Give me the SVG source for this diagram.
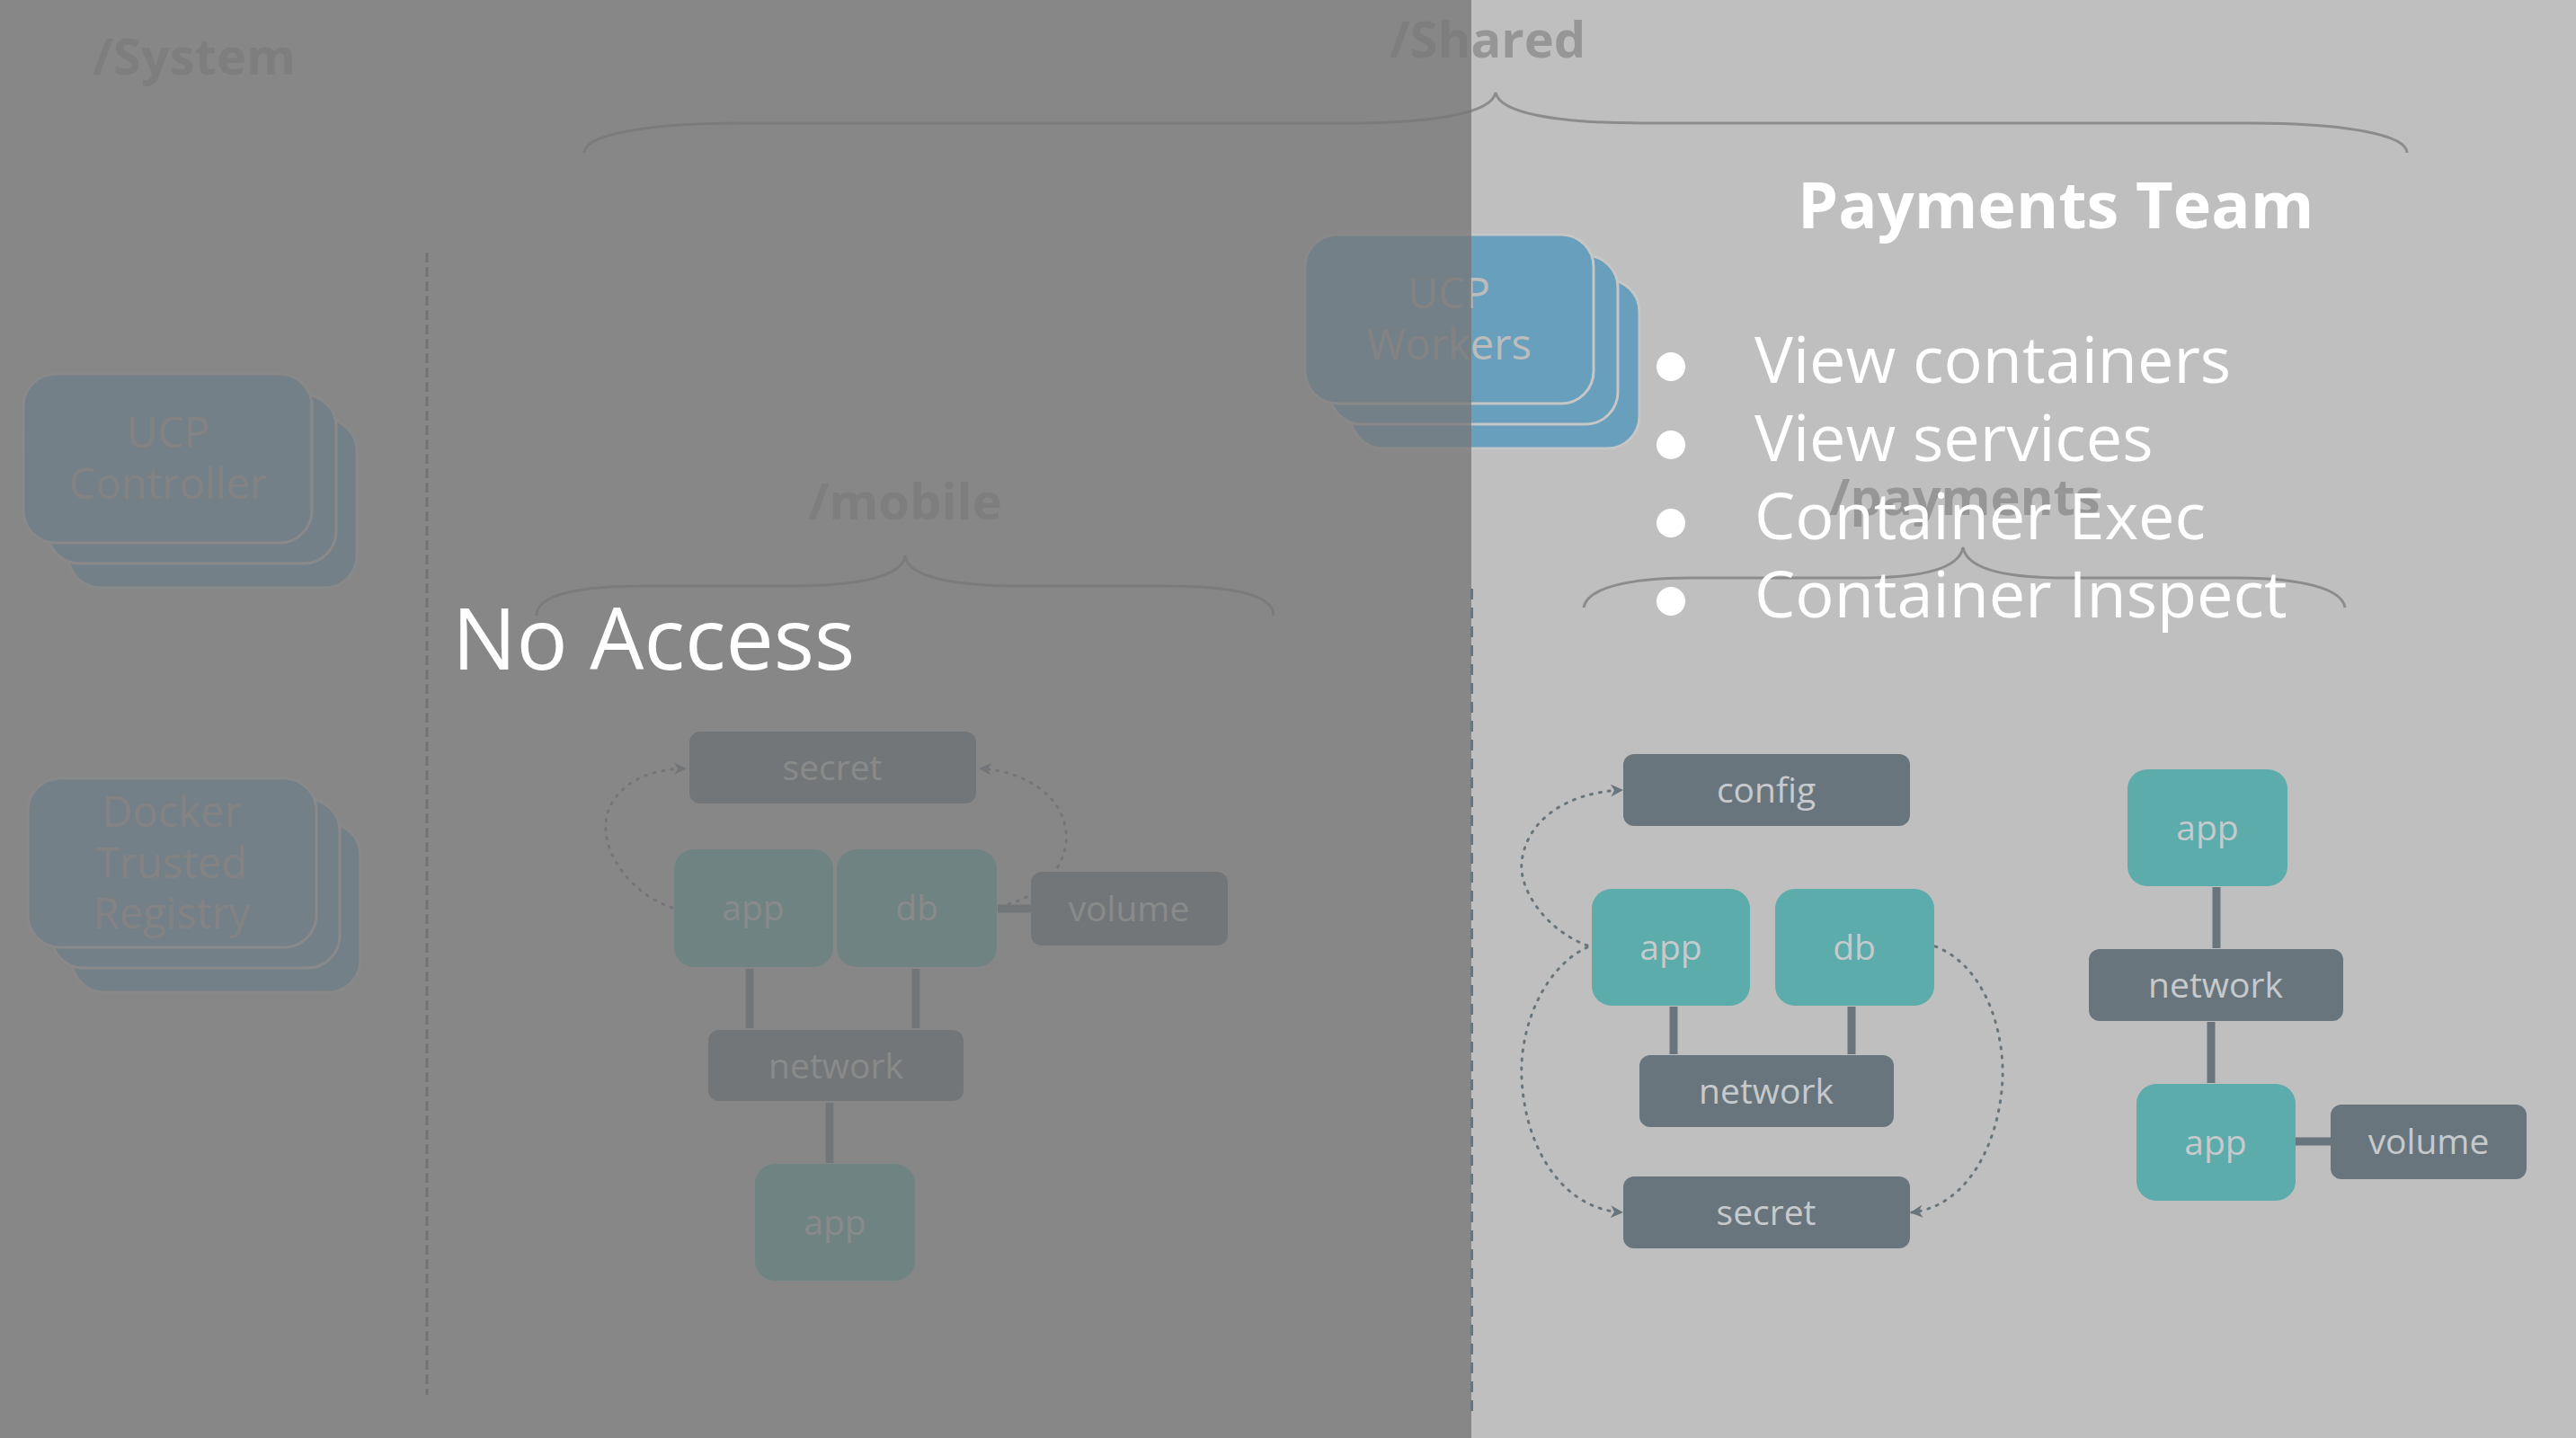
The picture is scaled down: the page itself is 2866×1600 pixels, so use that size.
<svg xmlns="http://www.w3.org/2000/svg" width="2866" height="1600" viewBox="0 0 2866 1600">
<defs>
<style>
text{font-family:"Open Sans","Liberation Sans",sans-serif;}
.lbl{font-weight:bold;font-size:56px;fill:#969696;text-anchor:middle;}
.brace{fill:none;stroke:#8c8c8c;stroke-width:3;}
.stk{fill:#679fbd;stroke:#c6c6c6;stroke-width:3;}
.stxt{font-size:47px;fill:#acacac;text-anchor:middle;}
.dn{fill:#69757d;}
.tn{fill:#5dacac;}
.ntxt{font-size:39px;fill:#c6cacc;text-anchor:middle;}
.bar{stroke:#69757d;stroke-width:9;fill:none;}
.dot{stroke:#69757d;stroke-width:3;fill:none;stroke-dasharray:2 8;stroke-linecap:round;}
.wt{fill:#ffffff;}
.bul{font-size:72px;fill:#ffffff;}
</style>
<linearGradient id="wtxt" gradientUnits="userSpaceOnUse" x1="0" y1="0" x2="2866" y2="0">
<stop offset="0.5712" stop-color="#acacac"/>
<stop offset="0.5712" stop-color="#bcbcbc"/>
</linearGradient>
<marker id="ah" viewBox="0 0 14 14" refX="12" refY="7" markerWidth="14" markerHeight="14" markerUnits="userSpaceOnUse" orient="auto">
<path d="M0,0 L14,7 L0,14 L4,7 Z" fill="#69757d"/>
</marker>
</defs>
<rect x="0" y="0" width="2866" height="1600" fill="#bfbfbf"/>

<g id="labels">
<text class="lbl" x="216" y="83">/System</text>
<text class="lbl" x="1655" y="64">/Shared</text>
<text class="lbl" x="1007" y="578">/mobile</text>
<text class="lbl" x="2186" y="573">/payments</text>
</g>

<g id="braces">
<path class="brace" d="M650,170 C650,150 720,137 823,137 L1500,137 C1600,137 1660,125 1664,103 C1668,125 1728,137 1828,137 L2505,137 C2608,137 2678,150 2678,170"/>
<path class="brace" d="M597,685 C597,662 640,652 720,652 L880,652 C960,652 1005,640 1007,618 C1009,640 1054,652 1134,652 L1294,652 C1374,652 1417,662 1417,685"/>
<path class="brace" d="M1762,676 C1765,655 1810,643 1880,643 L2070,643 C2140,643 2180,632 2184,609 C2188,632 2228,643 2298,643 L2490,643 C2560,643 2606,655 2609,676"/>
</g>

<line x1="475" y1="281" x2="475" y2="1552" stroke="#5f6a72" stroke-width="3" stroke-dasharray="11 5"/>

<g id="ucp-controller">
<rect class="stk" x="76" y="466" width="321" height="188" rx="36"/>
<rect class="stk" x="53" y="439" width="321" height="188" rx="36"/>
<rect class="stk" x="26" y="416" width="321" height="188" rx="36"/>
<text class="stxt" x="187" y="498">UCP</text>
<text class="stxt" x="187" y="555">Controller</text>
</g>

<g id="dtr">
<rect class="stk" x="80" y="916" width="321" height="188" rx="36"/>
<rect class="stk" x="57" y="889" width="321" height="188" rx="36"/>
<rect class="stk" x="31" y="866" width="321" height="188" rx="36"/>
<text class="stxt" x="191" y="920">Docker</text>
<text class="stxt" x="191" y="977">Trusted</text>
<text class="stxt" x="191" y="1033">Registry</text>
</g>

<g id="ucp-workers">
<rect class="stk" x="1503" y="311" width="321" height="188" rx="36"/>
<rect class="stk" x="1479" y="284" width="321" height="188" rx="36"/>
<rect class="stk" x="1452" y="261" width="321" height="188" rx="36"/>
<text class="stxt" x="1612" y="343" style="fill:url(#wtxt)">UCP</text>
<text class="stxt" x="1612" y="400" style="fill:url(#wtxt)">Workers</text>
</g>

<g id="connectors">
<line class="bar" x1="834" y1="1078" x2="834" y2="1144"/>
<line class="bar" x1="1019" y1="1078" x2="1019" y2="1144"/>
<line class="bar" x1="923" y1="1227" x2="923" y2="1294"/>
<line class="bar" x1="1110" y1="1011" x2="1148" y2="1011"/>
<path class="dot" d="M748,1010 C690,990 660,930 680,895 C695,868 725,856 762,855" marker-end="url(#ah)"/>
<path class="dot" d="M1112,1008 C1160,1000 1190,960 1186,925 C1182,885 1140,858 1091,855" marker-end="url(#ah)"/>

<line class="bar" x1="1862" y1="1120" x2="1862" y2="1173"/>
<line class="bar" x1="2060" y1="1120" x2="2060" y2="1173"/>
<line class="bar" x1="2466" y1="987" x2="2466" y2="1055"/>
<line class="bar" x1="2460" y1="1137" x2="2460" y2="1205"/>
<line class="bar" x1="2554" y1="1270" x2="2594" y2="1270"/>
<path class="dot" d="M1766,1052 C1720,1035 1690,990 1693,960 C1697,915 1740,882 1804,879" marker-end="url(#ah)"/>
<path class="dot" d="M1766,1054 C1720,1075 1690,1140 1693,1200 C1697,1280 1740,1345 1804,1349" marker-end="url(#ah)"/>
<path class="dot" d="M2153,1053 C2210,1075 2230,1150 2228,1200 C2225,1270 2190,1342 2127,1349" marker-end="url(#ah)"/>
</g>

<g id="mobile-secret"><rect class="dn" x="767" y="814" width="319" height="80" rx="12"/><text class="ntxt" x="926" y="868">secret</text></g>
<g id="mobile-app"><rect class="tn" x="750" y="945" width="177" height="131" rx="22"/><text class="ntxt" x="838" y="1024">app</text></g>
<g id="mobile-db"><rect class="tn" x="931" y="945" width="178" height="131" rx="22"/><text class="ntxt" x="1020" y="1024">db</text></g>
<g id="mobile-volume"><rect class="dn" x="1147" y="970" width="219" height="82" rx="12"/><text class="ntxt" x="1256" y="1025">volume</text></g>
<g id="mobile-network"><rect class="dn" x="788" y="1146" width="284" height="79" rx="12"/><text class="ntxt" x="930" y="1200">network</text></g>
<g id="mobile-app2"><rect class="tn" x="840" y="1295" width="178" height="130" rx="22"/><text class="ntxt" x="929" y="1374">app</text></g>

<rect x="0" y="0" width="1637" height="1600" fill="#767676" fill-opacity="0.77"/>

<line x1="1637.5" y1="655" x2="1637.5" y2="1572" stroke="#69757d" stroke-width="3" stroke-dasharray="12 9"/>

<g id="pay-config"><rect class="dn" x="1806" y="839" width="319" height="80" rx="12"/><text class="ntxt" x="1965" y="893">config</text></g>
<g id="pay-app"><rect class="tn" x="1771" y="989" width="176" height="130" rx="22"/><text class="ntxt" x="1859" y="1068">app</text></g>
<g id="pay-db"><rect class="tn" x="1975" y="989" width="177" height="130" rx="22"/><text class="ntxt" x="2063" y="1068">db</text></g>
<g id="pay-network"><rect class="dn" x="1824" y="1174" width="283" height="80" rx="12"/><text class="ntxt" x="1965" y="1228">network</text></g>
<g id="pay-secret"><rect class="dn" x="1806" y="1309" width="319" height="80" rx="12"/><text class="ntxt" x="1965" y="1363">secret</text></g>
<g id="pay-app2"><rect class="tn" x="2367" y="856" width="178" height="130" rx="22"/><text class="ntxt" x="2456" y="935">app</text></g>
<g id="pay-network2"><rect class="dn" x="2324" y="1056" width="283" height="80" rx="12"/><text class="ntxt" x="2465" y="1110">network</text></g>
<g id="pay-app3"><rect class="tn" x="2377" y="1206" width="177" height="130" rx="22"/><text class="ntxt" x="2465" y="1285">app</text></g>
<g id="pay-volume"><rect class="dn" x="2593" y="1229" width="218" height="83" rx="12"/><text class="ntxt" x="2702" y="1284">volume</text></g>

<text x="503" y="745" font-size="95" class="wt">No Access</text>

<g id="payments-team">
<text x="2000" y="254" font-size="72" font-weight="bold" class="wt">Payments Team</text>
<circle cx="1859" cy="408" r="16" class="wt"/>
<circle cx="1859" cy="495" r="16" class="wt"/>
<circle cx="1859" cy="582" r="16" class="wt"/>
<circle cx="1859" cy="669" r="16" class="wt"/>
<text class="bul" x="1952" y="426">View containers</text>
<text class="bul" x="1952" y="513">View services</text>
<text class="bul" x="1952" y="600">Container Exec</text>
<text class="bul" x="1952" y="687">Container Inspect</text>
</g>
</svg>
